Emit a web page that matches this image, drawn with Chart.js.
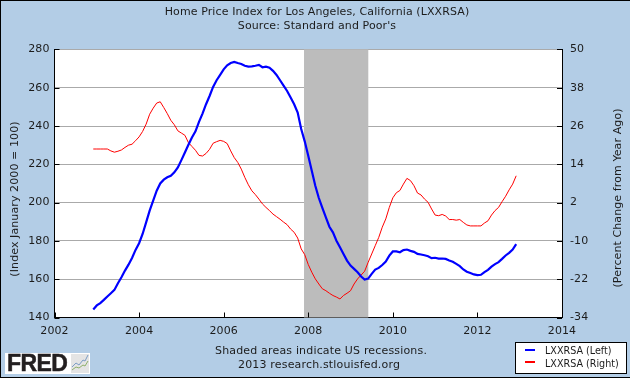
<!DOCTYPE html>
<html>
<head>
<meta charset="utf-8">
<title>Home Price Index for Los Angeles</title>
<script src="https://cdn.jsdelivr.net/npm/chart.js@4"></script>
<style>
  html, body { margin: 0; padding: 0; background: #b3cde6; }
  #wrap { position: relative; width: 630px; height: 378px; overflow: hidden; font-family: "DejaVu Sans", sans-serif; color: #1c1c1c; }
  #chart { position: absolute; left: 0; top: 0; }
  #frame { position: absolute; left: 0; top: 0; width: 630px; height: 378px; box-sizing: border-box; border: 1px solid #000; border-right: 0; pointer-events: none; }
  .note { position: absolute; font-size: 11px; line-height: 14px; white-space: nowrap; letter-spacing: 0.17px; }
  .side { position: absolute; font-size: 11px; line-height: 14px; white-space: nowrap; letter-spacing: 0.1px; transform: translate(-50%, -50%) rotate(-90deg); }
  #legend { position: absolute; left: 515px; top: 342px; width: 112px; height: 32px; box-sizing: border-box; background: #fff; border: 1px solid #000; }
  .key { position: absolute; left: 9px; width: 10px; height: 2px; }
  .keytext { position: absolute; left: 29px; font-size: 9.6px; line-height: 12px; white-space: nowrap; }
  #logo { position: absolute; left: 5px; top: 353px; width: 85px; height: 21px; background: #fff; }
  #logo span { position: absolute; left: 2px; top: -2px; font: bold 23px/25px "Liberation Sans", sans-serif; color: #231f20; letter-spacing: -0.6px; -webkit-text-stroke: 0.5px #231f20; }
  #logo svg { position: absolute; left: 66px; top: 1px; }
</style>
</head>
<body>
<div id="wrap">
  <canvas id="chart" width="630" height="378"></canvas>
  <div id="frame"></div>
  <div class="side" style="left:15px;top:198.5px">(Index January 2000 = 100)</div>
  <div class="side" style="left:618px;top:198px">(Percent Change from Year Ago)</div>
  <div class="note" style="left:215px;top:344px">Shaded areas indicate US recessions.</div>
  <div class="note" style="left:238px;top:358px">2013 research.stlouisfed.org</div>
  <div id="legend"></div>
  <div id="logo">
    <span>FRED</span>
    <svg width="18" height="19" viewBox="0 0 18 19">
      <rect x="0" y="0" width="18" height="19" fill="#e4e4e4"/>
      <polyline points="1,13 5,9 8,11 12,6 14,7 17,1" fill="none" stroke="#7b9cc4" stroke-width="1"/>
      <polyline points="1,16 5,13 8,14 12,11 14,12 17,7" fill="none" stroke="#8fb06a" stroke-width="1"/>
    </svg>
  </div>
</div>
<script>
const firstMonth = 2002 + 11 / 12;

// monthly Dec 2002 - Dec 2012
const indexValues = [
  144.2, 146.3, 147.5, 149.2, 151.0, 152.7, 154.4, 157.9, 161.0, 164.5, 167.6,
  171.1, 175.3, 178.8, 183.6, 189.7, 195.8, 201.0, 206.2, 210.0, 212.0, 213.2,
  214.0, 215.8, 218.4, 222.2, 226.2, 230.2, 234.0, 237.2, 242.2, 246.5, 251.4,
  255.7, 260.4, 263.9, 266.7, 269.6, 271.7, 272.9, 273.5, 272.9, 272.4, 271.5,
  271.0, 271.2, 271.5, 271.9, 270.7, 271.0, 270.5, 268.8, 266.7, 263.9, 261.1,
  258.3, 254.9, 251.4, 247.0, 238.4, 232.0, 224.5, 216.6, 208.8, 202.4, 197.2,
  192.3, 187.4, 184.5, 180.1, 176.7, 173.2, 169.7, 167.1, 165.4, 163.6, 161.4,
  159.8, 160.3, 162.8, 165.0, 165.9, 167.4, 169.2, 172.3, 174.5, 174.5, 174.1,
  175.2, 175.5, 174.8, 174.3, 173.2, 172.9, 172.5, 172.0, 171.0, 171.2, 170.8,
  170.8, 170.6, 169.8, 169.1, 168.0, 166.8, 165.1, 163.9, 163.2, 162.5, 162.1,
  162.3, 163.7, 164.9, 166.6, 167.9, 168.9, 170.6, 172.4, 173.8, 175.5, 178.3
];

// same months
const changeValues = [
  18.8, 18.8, 18.8, 18.8, 18.8, 18.2, 17.8, 18.1, 18.5, 19.3, 20.0,
  20.3, 21.4, 22.6, 24.3, 26.6, 29.7, 31.6, 33.2, 33.6, 31.8, 29.9,
  27.8, 26.4, 24.5, 23.8, 23.1, 20.8, 19.6, 18.4, 16.8, 16.6, 17.4,
  18.7, 20.6, 21.1, 21.5, 21.2, 20.5, 18.2, 16.1, 14.6, 12.5, 9.9,
  7.6, 5.7, 4.5, 3.1, 1.6, 0.5, -0.5, -1.6, -2.4, -3.2, -4.1,
  -4.9, -6.3, -7.3, -9.1, -12.5, -14.3, -17.4, -19.8, -21.9, -23.5, -25.0,
  -25.6, -26.4, -27.1, -27.6, -28.2, -27.1, -26.4, -25.6, -23.5, -21.9, -20.7,
  -19.5, -16.7, -14.1, -11.5, -8.9, -5.7, -3.1, 0.5, 3.5, 5.1, 5.8,
  7.8, 9.6, 8.9, 7.3, 5.0, 4.4, 3.1, 2.1, 0.0, -1.9, -2.1,
  -1.7, -2.2, -3.3, -3.3, -3.5, -3.3, -4.2, -5.0, -5.3, -5.3, -5.3,
  -5.3, -4.4, -3.7, -1.9, -0.5, 0.5, 2.3, 4.0, 6.0, 7.8, 10.4
];

const recession = [2007.9, 2009.42];
const leftTicks = [140, 160, 180, 200, 220, 240, 260, 280];
const rightTicks = [-34, -22, -10, 2, 14, 26, 38, 50];
const yearTicks = [2002, 2004, 2006, 2008, 2010, 2012, 2014];
const seriesNames = ['LXXRSA (Left)', 'LXXRSA (Right)'];
const seriesColors = ['#0000ff', '#ff0000'];
const titleLines = ['Home Price Index for Los Angeles, California (LXXRSA)', "Source: Standard and Poor's"];

const toPoints = values => values.map((y, i) => ({ x: firstMonth + i / 12, y }));

// white plot area, slightly wider text to match the original font
const plotBackground = {
  id: 'plotBackground',
  beforeDraw(chart) {
    const { ctx, chartArea } = chart;
    ctx.letterSpacing = '0.1px';
    ctx.save();
    ctx.fillStyle = '#fff';
    ctx.fillRect(chartArea.left, chartArea.top, chartArea.right - chartArea.left, chartArea.bottom - chartArea.top);
    ctx.restore();
  },
};

// grey band sits over the grid but under the lines
const recessionBand = {
  id: 'recessionBand',
  beforeDatasetsDraw(chart) {
    const { ctx, chartArea, scales } = chart;
    const x0 = scales.x.getPixelForValue(recession[0]);
    const x1 = scales.x.getPixelForValue(recession[1]);
    ctx.save();
    ctx.fillStyle = '#bcbcbc';
    ctx.fillRect(x0, chartArea.top, x1 - x0, chartArea.bottom - chartArea.top);
    ctx.restore();
  },
};

// FRED ticks point into the plot
const innerTicks = {
  id: 'innerTicks',
  afterDraw(chart) {
    const { ctx, chartArea, scales } = chart;
    ctx.save();
    ctx.strokeStyle = '#000';
    ctx.lineWidth = 1;
    ctx.beginPath();
    scales.x.ticks.forEach(t => {
      const px = Math.round(scales.x.getPixelForValue(t.value)) + 0.5;
      ctx.moveTo(px, chartArea.bottom);
      ctx.lineTo(px, chartArea.bottom - 5);
    });
    scales.y.ticks.forEach(t => {
      const py = Math.round(scales.y.getPixelForValue(t.value)) + 0.5;
      ctx.moveTo(chartArea.left, py);
      ctx.lineTo(chartArea.left + 5, py);
    });
    scales.y2.ticks.forEach(t => {
      const py = Math.round(scales.y2.getPixelForValue(t.value)) + 0.5;
      ctx.moveTo(chartArea.right, py);
      ctx.lineTo(chartArea.right - 5, py);
    });
    ctx.stroke();
    ctx.restore();
  },
};

const tickFont = { family: '"DejaVu Sans", sans-serif', size: 11 };
const textColor = '#1c1c1c';

new Chart(document.getElementById('chart'), {
  type: 'line',
  data: {
    datasets: [
      { label: seriesNames[0], data: toPoints(indexValues), yAxisID: 'y', borderColor: seriesColors[0], borderWidth: 2.2 },
      { label: seriesNames[1], data: toPoints(changeValues), yAxisID: 'y2', borderColor: seriesColors[1], borderWidth: 1 },
    ],
  },
  options: {
    responsive: false,
    animation: false,
    elements: { point: { radius: 0 }, line: { tension: 0 } },
    layout: { padding: { left: 10, right: 6, top: 0, bottom: 0 } },
    plugins: {
      legend: { display: false },
      tooltip: { enabled: false },
      title: {
        display: true,
        text: titleLines,
        color: textColor,
        font: { family: tickFont.family, size: 11, weight: 'normal', lineHeight: 1.27 },
        padding: { top: 5, bottom: 16.5 },
      },
    },
    scales: {
      x: {
        type: 'linear',
        min: 2002,
        max: 2014,
        afterBuildTicks: s => { s.ticks = yearTicks.map(value => ({ value })); },
        afterFit: s => { s.height = 60.5; },
        grid: { display: false, drawTicks: false },
        border: { color: '#000' },
        ticks: { color: textColor, font: tickFont, padding: 7, maxRotation: 0, callback: v => String(v) },
      },
      y: {
        position: 'left',
        min: 140,
        max: 280,
        afterBuildTicks: s => { s.ticks = leftTicks.map(value => ({ value })); },
        afterFit: s => { s.width = 44.5; },
        grid: { color: '#aaaaaa', drawTicks: false },
        border: { color: '#000' },
        ticks: { color: textColor, font: tickFont, padding: 5 },
      },
      y2: {
        position: 'right',
        min: -34,
        max: 50,
        afterBuildTicks: s => { s.ticks = rightTicks.map(value => ({ value })); },
        afterFit: s => { s.width = 62; },
        grid: { display: false, drawTicks: false },
        border: { color: '#000' },
        ticks: { color: textColor, font: tickFont, padding: 8 },
      },
    },
  },
  plugins: [plotBackground, recessionBand, innerTicks],
});

// legend box, from the same names and colours as the datasets
const legendBox = document.getElementById('legend');
seriesNames.forEach((name, i) => {
  const key = document.createElement('div');
  key.className = 'key';
  key.style.top = (6 + i * 12) + 'px';
  key.style.background = seriesColors[i];
  const label = document.createElement('div');
  label.className = 'keytext';
  label.style.top = (2 + i * 13) + 'px';
  label.textContent = name;
  legendBox.append(key, label);
});
</script>
</body>
</html>
